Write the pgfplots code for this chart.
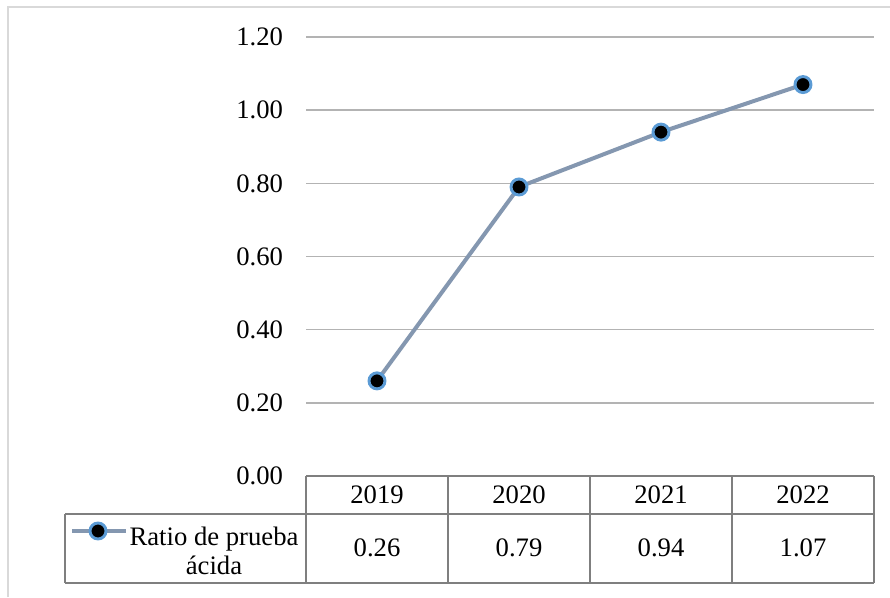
\documentclass[border=0pt]{standalone}
\usepackage{fontspec}
\setmainfont{Liberation Serif}
\usepackage{pgfplots}
\pgfplotsset{compat=1.18}

\definecolor{serie}{HTML}{8497B0}
\definecolor{marca}{HTML}{5B9BD5}
\definecolor{rejilla}{HTML}{B3B3B3}
\definecolor{tabla}{HTML}{7F7F7F}
\definecolor{marco}{HTML}{D9D9D9}

\begin{document}
\fontsize{20}{23.5}\selectfont
\begin{tikzpicture}[x=0.75pt,y=0.75pt]
  % whole picture: 890 x 597 px
  \useasboundingbox (0,0) rectangle (890,597);
  % outer chart frame (cropped: only top and left visible)
  \draw[marco, line width=1.5] (8,0) -- (8,590) -- (890,590);

  \begin{axis}[
      at={(229.5pt,90.75pt)}, anchor=south west,
      scale only axis,
      width=426pt, height=329.25pt,
      xmin=-0.5, xmax=3.5,
      ymin=0, ymax=1.2,
      ytick={0,0.2,0.4,0.6,0.8,1.0,1.2},
      xtick=\empty,
      axis line style={draw=none},
      major tick length=0pt,
      ymajorgrids,
      grid style={rejilla, line width=1.2pt},
      yticklabel style={
        /pgf/number format/fixed,
        /pgf/number format/fixed zerofill,
        /pgf/number format/precision=2,
        /pgf/number format/assume math mode=true,
        font=\fontsize{20}{23.5}\selectfont,
        inner sep=0pt, xshift=-17pt},
      clip=false]
    \addplot[serie, line width=3pt, mark=*,
             mark options={fill=black, draw=marca, line width=2.2pt},
             mark size=6pt] coordinates {
      (0,0.26) (1,0.79) (2,0.94) (3,1.07)
    };
  \end{axis}

  % data table below the plot
  \begin{scope}[tabla, line width=1.6]
    \draw (306,121) -- (874,121);
    \draw (65,83) -- (874,83);
    \draw (65,14) -- (874,14);
    \draw (65,83) -- (65,14);
    \foreach \xx in {306,448,590,732,874} \draw (\xx,121) -- (\xx,14);
  \end{scope}
  \foreach \xx/\yr/\val in {377/2019/0.26, 519/2020/0.79, 661/2021/0.94, 803/2022/1.07} {
    \node at (\xx,102) {\yr};
    \node at (\xx,49) {\val};
  }
  % legend key inside table
  \draw[serie, line width=3pt] (72,66) -- (126,66);
  \filldraw[fill=black, draw=marca, line width=2.2pt] (98,66) circle (6pt);
  \node[align=center, inner sep=0pt] at (214,46) {Ratio de prueba\\[-2pt]ácida};
\end{tikzpicture}
\end{document}
